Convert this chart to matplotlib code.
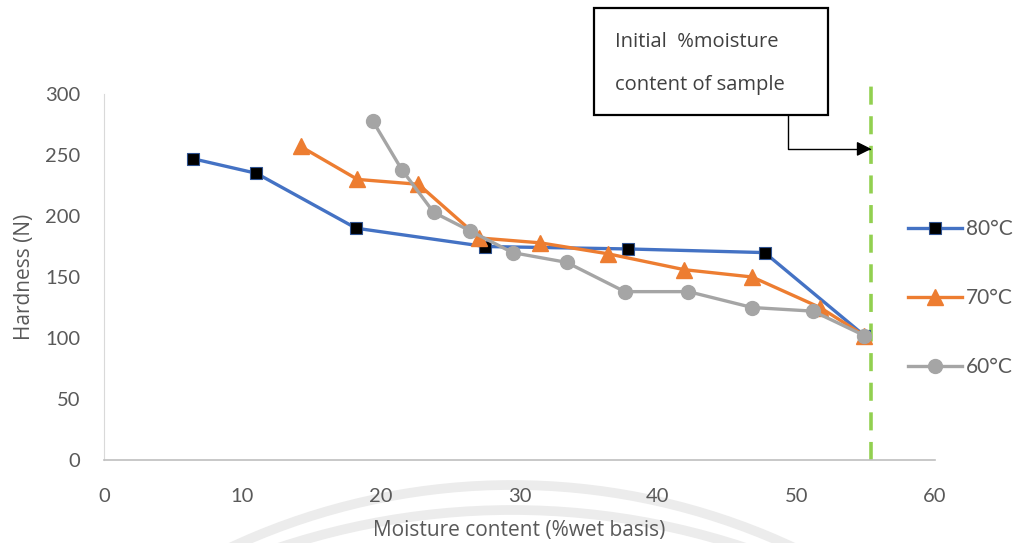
import matplotlib.pyplot as plt
from matplotlib.patches import Rectangle, Arc
import numpy as np

# datos
mc_80 = [6.4, 11.0, 18.2, 27.5, 37.8, 47.7, 54.9]
hard_80 = [247, 235, 190, 175, 173, 170, 102]

mc_70 = [14.2, 18.3, 22.7, 27.1, 31.5, 36.4, 41.9, 46.8, 51.7, 54.9]
hard_70 = [257, 230, 226, 182, 178, 169, 156, 150, 125, 102]

mc_60 = [19.4, 21.5, 23.8, 26.4, 29.5, 33.4, 37.6, 42.2, 46.8, 51.2, 54.9]
hard_60 = [278, 238, 203, 188, 170, 162, 138, 138, 125, 122, 102]

initial_mc = 55.4
labels = ['80°C', '70°C', '60°C']
xticks = [0, 10, 20, 30, 40, 50, 60]
yticks = [0, 50, 100, 150, 200, 250, 300]

W, H = 1022, 543
fig = plt.figure(figsize=(W / 100, H / 100), dpi=100)

# marca de agua de fondo (arcos grises)
bg = fig.add_axes([0, 0, 1, 1], zorder=-1)
bg.set_xlim(0, W)
bg.set_ylim(H, 0)
bg.axis('off')
bg.add_patch(Arc((512, 1150), 1330, 1330, theta1=0, theta2=360, color='#ececec', lw=7))
bg.add_patch(Arc((512, 1250), 1480, 1480, theta1=0, theta2=360, color='#ececec', lw=7))

ax = fig.add_axes([104 / W, 1 - 460 / H, (935 - 104) / W, (460 - 94) / H])
ax.patch.set_alpha(0)

ax.plot(mc_80, hard_80, color='#4472C4', lw=2.4, marker='s', ms=9,
        mfc='black', mec='#2F528F', mew=0.8, label=labels[0], zorder=3)
ax.plot(mc_70, hard_70, color='#ED7D31', lw=2.4, marker='^', ms=11,
        mfc='#ED7D31', mec='#ED7D31', label=labels[1], zorder=4)
ax.plot(mc_60, hard_60, color='#A5A5A5', lw=2.4, marker='o', ms=10,
        mfc='#A5A5A5', mec='#A5A5A5', label=labels[2], zorder=5)

# linea de humedad inicial
ax.plot([initial_mc, initial_mc], [0, 311], color='#92D050', lw=2.6,
        ls=(0, (5, 3.2)), clip_on=False, zorder=2)

ax.set_xlim(0, 60)
ax.set_ylim(0, 300)
ax.set_xticks(xticks)
ax.set_yticks(yticks)
ax.tick_params(length=0, labelsize=14.5, labelcolor='#595959')
ax.tick_params(axis='y', pad=17)
ax.tick_params(axis='x', pad=20)
for t in ax.get_xticklabels() + ax.get_yticklabels():
    t.set_fontfamily('Lato')
for s in ['top', 'right']:
    ax.spines[s].set_visible(False)
ax.spines['left'].set_color('#D9D9D9')
ax.spines['bottom'].set_color('#BFBFBF')
ax.spines['bottom'].set_linewidth(1.2)

ax.set_xlabel('Moisture content (%wet basis)', fontsize=15, color='#595959',
              family='Open Sans', labelpad=11)
ax.set_ylabel('Hardness (N)', fontsize=15, color='#595959', family='Open Sans',
              labelpad=7)

leg = ax.legend(loc='center left', bbox_to_anchor=(908 / W, 1 - 298 / H),
                bbox_transform=fig.transFigure, frameon=False, fontsize=15,
                labelspacing=2.35, handlelength=2.6, handletextpad=0.2,
                borderpad=0, borderaxespad=0, labelcolor='#595959')
for t in leg.get_texts():
    t.set_fontfamily('Lato')

# cuadro de texto y flecha
fig.add_artist(Rectangle((594 / W, 1 - 115 / H), (828 - 594) / W, (115 - 8) / H,
                         transform=fig.transFigure, fill=False, ec='black', lw=1.6))
fig.text(615 / W, 1 - 42 / H, 'Initial  %moisture', fontsize=14.5, color='#404040',
         family='Open Sans', va='center')
fig.text(615 / W, 1 - 85 / H, 'content of sample', fontsize=14.5, color='#404040',
         family='Open Sans', va='center')
ax.annotate('', xy=(initial_mc, 255), xycoords='data',
            xytext=(788 / W, 1 - 115 / H), textcoords='figure fraction',
            arrowprops=dict(arrowstyle='-|>', connectionstyle='angle,angleA=90,angleB=0,rad=0',
                            color='black', lw=1, shrinkA=0, shrinkB=0, mutation_scale=22),
            annotation_clip=False)

fig.savefig('out.png', dpi=100)
